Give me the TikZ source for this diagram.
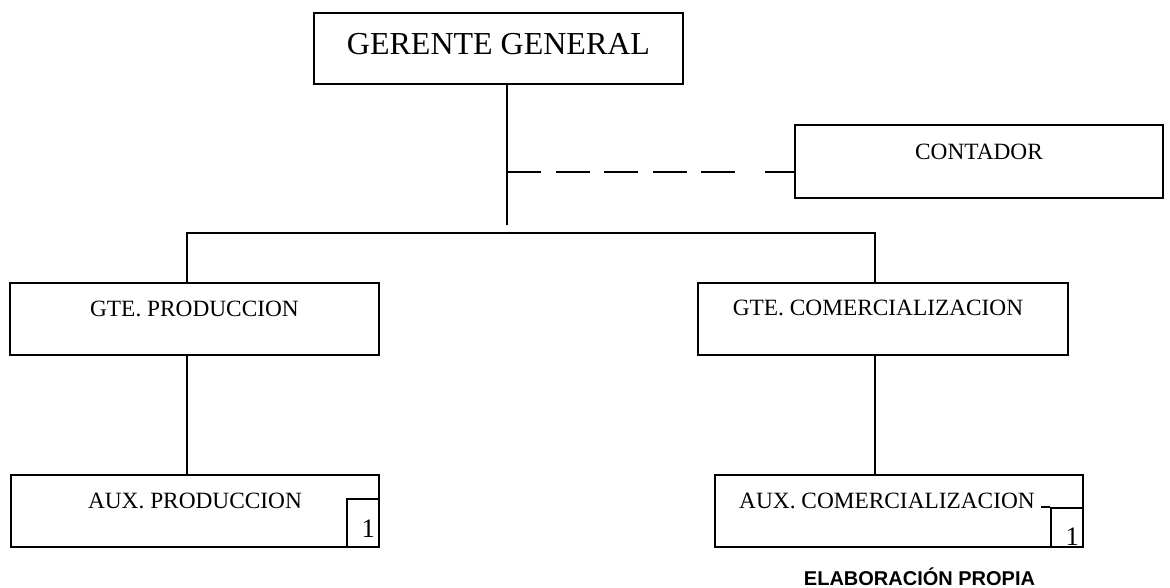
\documentclass[tikz,border=0pt]{standalone}
\usepackage{fontspec}
\setmainfont{Liberation Serif}
\newfontfamily\arialfont{Liberation Sans}
\usepackage{tikz}

\begin{document}
\begin{tikzpicture}[x=0.75pt, y=-0.75pt, line width=1.6pt,
    puesto/.style={draw, inner xsep=0pt, inner ysep=0pt, font=\fontsize{17.5}{20}\selectfont},
    marca/.style={draw, inner xsep=3pt, inner ysep=0pt, text width=18pt, align=right, font=\fontsize{20}{22}\selectfont}]
    \useasboundingbox (0,0) rectangle (1170,587);
    % cajas
    \node[puesto, anchor=north, minimum width=276.75pt, text height=30.75pt, text depth=22.5pt, font=\fontsize{24}{28}\selectfont] (gerente) at (498.5,12) {GERENTE GENERAL};
    \node[puesto, anchor=north, minimum width=276pt, text height=25.5pt, text depth=29.25pt] (contador) at (979,124) {CONTADOR};
    \node[puesto, anchor=north, minimum width=276.75pt, text height=24.75pt, text depth=29.25pt] (gprod) at (194.5,282) {GTE. PRODUCCION};
    \node[puesto, anchor=north, minimum width=277.5pt, text height=24pt, text depth=30pt] (gcom) at (883,282) {GTE. COMERCIALIZACION\hspace*{7.5pt}};
    \node[puesto, anchor=north, minimum width=276pt, text height=24.75pt, text depth=29.25pt] (aprod) at (195,474) {AUX. PRODUCCION};
    \node[puesto, anchor=north, minimum width=276pt, text height=24.75pt, text depth=29.25pt] (acom) at (899,474) {AUX. COMERCIALIZACION\hspace*{18pt}};
    \node[marca, anchor=south east, text height=28.5pt, text depth=7.5pt] (nprod) at (aprod.south east) {1};
    \node[marca, anchor=south east, text height=27.75pt, text depth=1.5pt] (ncom) at (acom.south east) {1};
    \draw (ncom.north west) -- +(-9,0);
    % lineas
    \coordinate (tronco) at (507,225);
    \coordinate (rama) at (507,172);
    \coordinate (izq) at (187,233);
    \coordinate (der) at (875,233);
    \draw (gerente.south -| tronco) -- (tronco);
    \draw[dash pattern=on 25.5pt off 10.9pt on 25.5pt off 10.9pt on 25.5pt off 10.9pt on 25.5pt off 10.9pt on 25.5pt off 22.5pt on 30pt] (rama) -- (contador.west |- rama);
    \draw (gprod.north -| izq) -- (izq) -- (der) -- (gcom.north -| der);
    \draw (gprod.south -| izq) -- (aprod.north -| izq);
    \draw (gcom.south -| der) -- (acom.north -| der);
    \node[anchor=base, font=\arialfont\bfseries\fontsize{15}{18}\selectfont] (fuente) at (919.5,585) {ELABORACIÓN PROPIA};
\end{tikzpicture}
\end{document}
